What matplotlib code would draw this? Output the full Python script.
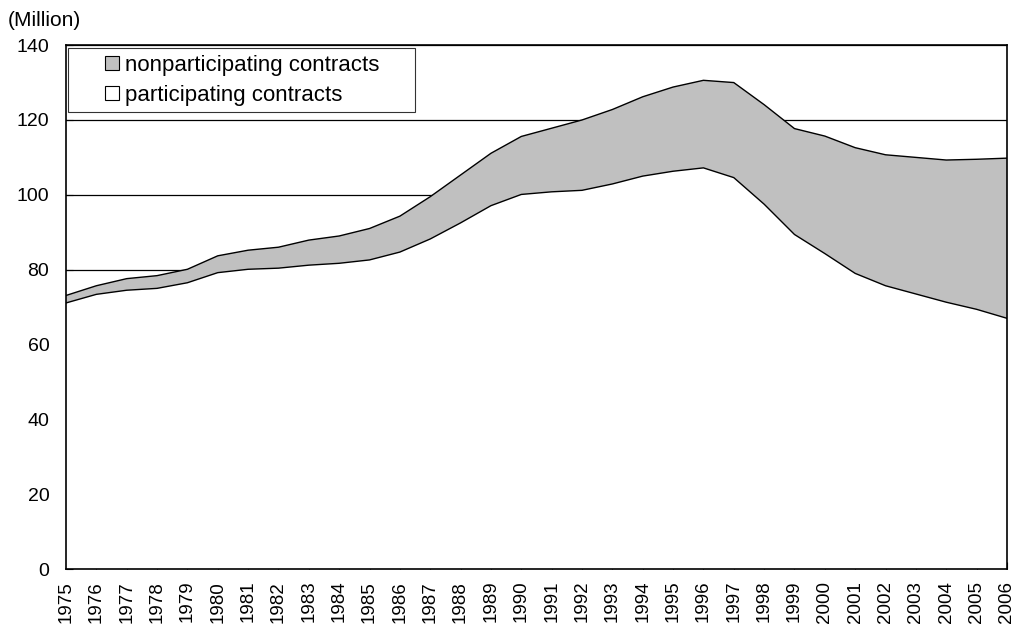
import matplotlib
matplotlib.use("Agg")
import matplotlib.pyplot as plt
from matplotlib.patches import Patch, Rectangle
from matplotlib.legend_handler import HandlerPatch

plt.rcParams['font.family'] = ['Liberation Sans', 'DejaVu Sans']

years = list(range(1975, 2007))
# total contracts (upper line) and participating (lower line), millions
total = [73.1, 75.7, 77.6, 78.4, 80.1, 83.7, 85.2, 86.0, 87.9, 89.0,
         91.0, 94.3, 99.5, 105.3, 111.1, 115.6, 117.8, 120.0, 122.8, 126.2,
         128.8, 130.6, 130.0, 124.1, 117.7, 115.7, 112.6, 110.7, 110.0, 109.3,
         109.5, 109.8]
participating = [71.1, 73.4, 74.5, 75.0, 76.5, 79.2, 80.1, 80.4, 81.2, 81.7,
                 82.6, 84.7, 88.2, 92.5, 97.1, 100.1, 100.8, 101.2, 102.9, 105.0,
                 106.3, 107.2, 104.6, 97.5, 89.4, 84.3, 79.0, 75.7, 73.5, 71.3,
                 69.4, 67.0]
nonparticipating = [t - p for t, p in zip(total, participating)]
upper = [p + n for p, n in zip(participating, nonparticipating)]


def square_right(legend, orig_handle, xdescent, ydescent, width, height, fontsize):
    # small square pushed to the right end of the handle slot
    side = 0.62 * fontsize
    return Rectangle((width - xdescent - side, -ydescent + (height - side) / 2), side, side)


fig = plt.figure(figsize=(10.2, 6.27), dpi=100)
ax = fig.add_axes([0.0647, 0.0925, 0.9225, 0.8355])

ax.fill_between(years, 0, upper, facecolor='#C0C0C0', edgecolor='none', zorder=2)
ax.fill_between(years, 0, participating, facecolor='white', edgecolor='none', zorder=3)
ax.plot(years, upper, color='black', lw=1.0, zorder=4)
ax.plot(years, participating, color='black', lw=1.0, zorder=4)

ax.set_xlim(1975, 2006)
ax.set_ylim(0, 140)
ax.set_yticks(range(0, 141, 20))
ax.set_xticks(years)
ax.set_xticklabels([str(y) for y in years], rotation=90, fontsize=13.5)
ax.tick_params(axis='y', labelsize=14, direction='in', length=5, pad=12)
ax.tick_params(axis='x', direction='in', length=5, pad=8.5)
ax.yaxis.grid(True, color='black', lw=0.9)
ax.set_axisbelow(True)
for s in ax.spines.values():
    s.set_linewidth(1.2)
    s.set_zorder(5)

fig.text(0.008, 0.968, '(Million)', fontsize=15, ha='left', va='center')

handles = [Patch(facecolor='#C0C0C0', edgecolor='black', lw=0.8, label='nonparticipating contracts'),
           Patch(facecolor='white', edgecolor='black', lw=0.8, label='participating contracts')]
hmap = {h: HandlerPatch(patch_func=square_right) for h in handles}
leg = ax.legend(handles=handles, handler_map=hmap, loc='upper left',
                bbox_to_anchor=(0.002, 0.995, 0.369, 0.0), mode='expand',
                fontsize=16, frameon=True, fancybox=False, borderpad=0.3,
                handlelength=2.0, handleheight=0.8, handletextpad=0.27,
                labelspacing=0.4, borderaxespad=0)
leg.get_frame().set_edgecolor('black')
leg.get_frame().set_linewidth(0.8)
leg.set_zorder(6)

fig.savefig('out.png', dpi=100)
